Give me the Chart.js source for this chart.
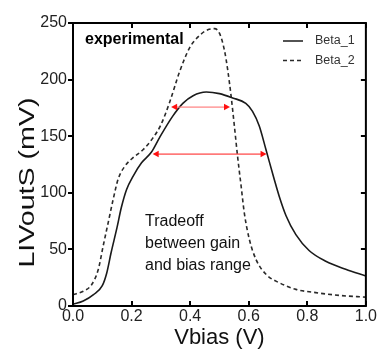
<!DOCTYPE html>
<html>
<head>
<meta charset="utf-8">
<script src="https://cdn.jsdelivr.net/npm/chart.js@4.4.1/dist/chart.umd.min.js"></script>
<style>
html, body { margin: 0; padding: 0; background: #fff; }
#wrap { width: 383px; height: 349px; position: relative; }
</style>
</head>
<body>
<div id="wrap"><canvas id="lvChart"></canvas></div>
<script>
// values
var vbias1 = [0, 0.035, 0.07, 0.1, 0.115, 0.13, 0.15, 0.165, 0.183, 0.205, 0.234, 0.268, 0.296, 0.34, 0.375, 0.41, 0.455, 0.5, 0.545, 0.59, 0.613, 0.636, 0.659, 0.687, 0.704, 0.727, 0.761, 0.806, 0.863, 0.931, 1.0];
var beta1 = [1.5, 4.4, 10, 18, 29, 47, 69, 87, 103, 114.6, 126.5, 136, 149, 167.5, 179, 185.8, 189, 187.6, 183.8, 179, 172, 159, 138, 112, 97, 80, 63, 49, 39.5, 32.4, 26.5];
var vbias2 = [0, 0.035, 0.064, 0.086, 0.103, 0.12, 0.137, 0.154, 0.177, 0.205, 0.239, 0.273, 0.3, 0.33, 0.364, 0.398, 0.432, 0.46, 0.483, 0.5, 0.517, 0.528, 0.54, 0.551, 0.562, 0.574, 0.585, 0.602, 0.625, 0.659, 0.704, 0.761, 0.829, 0.908, 1.0];
var beta2 = [10, 13, 19, 32, 53, 73.5, 94, 112, 123.5, 131, 138, 148.5, 160, 180, 207, 228, 239, 244, 245, 241, 226, 209, 185, 159, 132, 106, 82, 59, 41, 28, 20.6, 14.7, 11.8, 9.4, 7.8];
var seriesNames = ["Beta_1", "Beta_2"];
var xTicks = [0, 0.2, 0.4, 0.6, 0.8, 1.0];
var yTicks = [0, 50, 100, 150, 200, 250];
// red double arrows: level (mV) and span (V)
var arrowY = [176, 134];
var arrowFrom = [0.335, 0.272];
var arrowTo = [0.536, 0.661];
var tagText = "experimental";
var noteLines = ["Tradeoff", "between gain", "and bias range"];
var xTitle = "Vbias (V)";
var yTitle = "LIVoutS (mV)";

var FONT = "'Liberation Sans', Arial, sans-serif";
Chart.defaults.font.family = FONT;

function toPoints(xs, ys) {
  var pts = [];
  for (var i = 0; i < xs.length; i++) pts.push({x: xs[i], y: ys[i]});
  return pts;
}

function arrowHead(ctx, x, y, dir) {
  ctx.beginPath();
  ctx.moveTo(x, y);
  ctx.lineTo(x + dir * 6, y - 3.2);
  ctx.lineTo(x + dir * 6, y + 3.2);
  ctx.closePath();
  ctx.fill();
}

function setXTicks(s) { s.ticks = xTicks.map(function(v) { return {value: v}; }); }
function setYTicks(s) { s.ticks = yTicks.map(function(v) { return {value: v}; }); }

// inward tick marks for bottom / top / right
var innerGrid = { drawOnChartArea: false, drawTicks: true, tickLength: -5, color: '#000', lineWidth: 2 };

var decor = {
  id: 'decor',
  afterDraw: function(chart) {
    var ctx = chart.ctx, a = chart.chartArea;
    var xs = chart.scales.x, ys = chart.scales.y;
    var i;
    ctx.save();
    var L = a.left, T = a.top;

    // frame
    ctx.strokeStyle = '#000';
    ctx.lineWidth = 2;
    ctx.strokeRect(a.left, a.top, a.right - a.left, a.bottom - a.top);

    // arrows
    for (i = 0; i < arrowY.length; i++) {
      var y = Math.round(ys.getPixelForValue(arrowY[i]));
      var x0 = xs.getPixelForValue(arrowFrom[i]);
      var x1 = xs.getPixelForValue(arrowTo[i]);
      ctx.fillStyle = i === 0 ? '#ff8080' : '#ff4040';
      ctx.fillRect(x0 + 4, y - 0.5, x1 - x0 - 8, 1.2);
      ctx.fillStyle = '#ff1010';
      arrowHead(ctx, x0, y, 1);
      arrowHead(ctx, x1, y, -1);
    }

    // legend
    ctx.font = '12.5px ' + FONT;
    ctx.textBaseline = 'middle';
    ctx.textAlign = 'left';
    chart.data.datasets.forEach(function(ds, k) {
      var ly = T + 18 + k * 19.5;
      ctx.strokeStyle = ds.borderColor;
      ctx.lineWidth = 1.5;
      ctx.setLineDash(ds.borderDash || []);
      ctx.beginPath();
      ctx.moveTo(L + 210, ly);
      ctx.lineTo(L + 230, ly);
      ctx.stroke();
      ctx.setLineDash([]);
      ctx.fillStyle = '#333';
      ctx.fillText(ds.label, L + 242, ly);
    });

    // tag
    ctx.fillStyle = '#000';
    ctx.font = 'bold 16px ' + FONT;
    ctx.fillText(tagText, L + 12, T + 17);

    // note
    ctx.fillStyle = '#111';
    ctx.font = '16px ' + FONT;
    for (i = 0; i < noteLines.length; i++) {
      ctx.fillText(noteLines[i], L + 72, T + 199 + i * 21.7);
    }

    // y title, stretched along its length
    ctx.translate(28, (a.top + a.bottom) / 2 + 18);
    ctx.rotate(-Math.PI / 2);
    ctx.scale(1.3, 1);
    ctx.textAlign = 'center';
    ctx.font = '22px ' + FONT;
    ctx.fillStyle = '#111';
    ctx.fillText(yTitle, 0, 0);

    ctx.restore();
  }
};

new Chart("lvChart", {
  type: "line",
  data: {
    datasets: [{
      label: seriesNames[0],
      data: toPoints(vbias1, beta1),
      borderColor: '#1a1a1a',
      borderWidth: 1.6,
      pointRadius: 0,
      cubicInterpolationMode: 'monotone',
      fill: false
    }, {
      label: seriesNames[1],
      data: toPoints(vbias2, beta2),
      borderColor: '#2a2a2a',
      borderWidth: 1.6,
      borderDash: [4, 3],
      pointRadius: 0,
      cubicInterpolationMode: 'monotone',
      fill: false
    }]
  },
  options: {
    responsive: true,
    maintainAspectRatio: false,
    animation: false,
    layout: { padding: { top: 23, right: 16, left: 0, bottom: 0 } },
    plugins: {
      legend: { display: false },
      tooltip: { enabled: false }
    },
    scales: {
      x: {
        type: 'linear',
        position: 'bottom',
        min: 0, max: 1,
        afterBuildTicks: setXTicks,
        afterFit: function(s) { s.height = 43; },
        grid: innerGrid,
        border: { display: false },
        ticks: {
          color: '#222',
          font: { size: 16 },
          padding: 6,
          maxRotation: 0,
          callback: function(v) { return v.toFixed(1); }
        },
        title: {
          display: true,
          text: xTitle,
          color: '#111',
          font: { size: 22, lineHeight: 1 },
          padding: 0
        }
      },
      x2: {
        type: 'linear',
        position: 'top',
        min: 0, max: 1,
        afterBuildTicks: setXTicks,
        afterFit: function(s) { s.height = 0; },
        grid: innerGrid,
        border: { display: false },
        ticks: { display: false }
      },
      y: {
        position: 'left',
        min: 0, max: 250,
        afterBuildTicks: setYTicks,
        afterFit: function(s) { s.width = 73; },
        grid: { drawOnChartArea: false, drawTicks: true, tickLength: 5, color: '#000', lineWidth: 2 },
        border: { display: false },
        ticks: {
          color: '#222',
          font: { size: 16 },
          padding: 1
        }
      },
      y2: {
        position: 'right',
        min: 0, max: 250,
        afterBuildTicks: setYTicks,
        afterFit: function(s) { s.width = 0; },
        grid: innerGrid,
        border: { display: false },
        ticks: { display: false }
      }
    }
  },
  plugins: [decor]
});
</script>
</body>
</html>
